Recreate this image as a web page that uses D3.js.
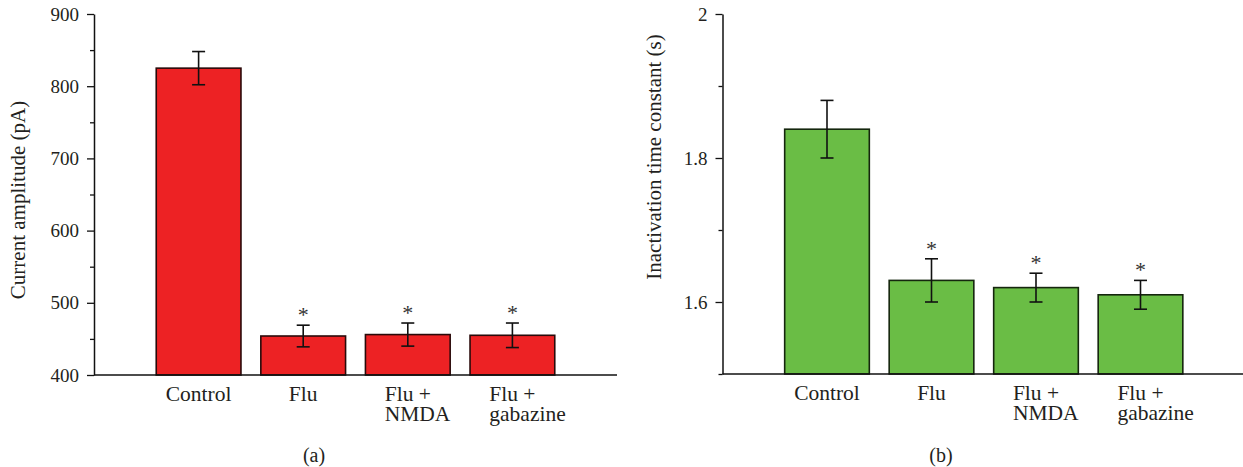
<!DOCTYPE html>
<html>
<head>
<meta charset="utf-8">
<script src="https://cdn.jsdelivr.net/npm/d3@7"></script>
<style>
  html, body { margin: 0; padding: 0; background: #fff; }
  svg { display: block; }
  text { font-family: "Liberation Serif", "DejaVu Serif", serif; fill: #231f20; }
</style>
</head>
<body>
<svg id="chart" width="1243" height="467"></svg>
<script>
// ---- data ----
const categories = ["Control", "Flu", "Flu +\nNMDA", "Flu +\ngabazine"];
const amplitudeValues = [825, 454, 456, 455];
const amplitudeErrors = [23, 15, 16, 17];
const amplitudeSignif = [false, true, true, true];
const amplitudeTicks = [400, 500, 600, 700, 800, 900];
const amplitudeMinorTicks = [450, 550, 650, 750, 850];

const tauValues = [1.84, 1.63, 1.62, 1.61];
const tauErrors = [0.04, 0.03, 0.02, 0.02];
const tauSignif = [false, true, true, true];
const tauTicks = [1.6, 1.8, 2.0];
const tauMinorTicks = [1.5, 1.7, 1.9];

const svg = d3.select("#chart");

function panel(opts) {
  const g = svg.append("g");
  const step = (opts.x1 - opts.x0) / 5;
  const x = d3.scaleBand()
    .domain(categories)
    .range([opts.x0 + step / 2, opts.x1 - step / 2])
    .paddingInner(0.19).paddingOuter(0.095);
  const y = d3.scaleLinear().domain(opts.domain).range([opts.yBottom, opts.yTop]);

  // bars
  g.selectAll("rect.bar").data(categories).enter().append("rect")
    .attr("class", "bar")
    .attr("x", d => x(d))
    .attr("width", x.bandwidth())
    .attr("y", (d, i) => y(opts.values[i]))
    .attr("height", (d, i) => y(opts.domain[0]) - y(opts.values[i]))
    .attr("fill", opts.color)
    .attr("stroke", opts.stroke)
    .attr("stroke-width", 1.6);

  // error bars
  const eb = g.selectAll("g.err").data(categories).enter().append("g").attr("class", "err")
    .attr("stroke", "#111").attr("stroke-width", 1.6);
  eb.append("line")
    .attr("x1", d => x(d) + x.bandwidth() / 2).attr("x2", d => x(d) + x.bandwidth() / 2)
    .attr("y1", (d, i) => y(opts.values[i] + opts.errors[i]))
    .attr("y2", (d, i) => y(opts.values[i] - opts.errors[i]));
  eb.append("line")
    .attr("x1", d => x(d) + x.bandwidth() / 2 - 6.5).attr("x2", d => x(d) + x.bandwidth() / 2 + 6.5)
    .attr("y1", (d, i) => y(opts.values[i] + opts.errors[i]))
    .attr("y2", (d, i) => y(opts.values[i] + opts.errors[i]));
  eb.append("line")
    .attr("x1", d => x(d) + x.bandwidth() / 2 - 6.5).attr("x2", d => x(d) + x.bandwidth() / 2 + 6.5)
    .attr("y1", (d, i) => y(opts.values[i] - opts.errors[i]))
    .attr("y2", (d, i) => y(opts.values[i] - opts.errors[i]));

  // asterisks
  g.selectAll("text.star").data(categories.filter((d, i) => opts.signif[i])).enter().append("text")
    .attr("class", "star")
    .attr("x", d => x(d) + x.bandwidth() / 2)
    .attr("y", d => { const i = categories.indexOf(d); return y(opts.values[i] + opts.errors[i]) - 3; })
    .attr("text-anchor", "middle")
    .style("font-size", "22px")
    .style("fill", "#333")
    .text("*");

  // y axis
  const yAxis = d3.axisLeft(y).tickValues(opts.ticks).tickSize(7).tickPadding(8)
    .tickFormat(opts.format).tickSizeOuter(0);
  const ya = g.append("g").attr("transform", `translate(${opts.x0},0)`).call(yAxis);
  ya.select(".domain").attr("stroke", "#111").attr("stroke-width", 1.5);
  ya.selectAll(".tick line").attr("stroke", "#111").attr("stroke-width", 1.3);
  ya.selectAll(".tick text").style("font-size", "19px").attr("fill", "#231f20")
    .style("font-family", '"Liberation Serif", serif');
  const yMinor = d3.axisLeft(y).tickValues(opts.minor).tickSize(4).tickFormat("");
  const ym = g.append("g").attr("transform", `translate(${opts.x0},0)`).call(yMinor);
  ym.select(".domain").remove();
  ym.selectAll(".tick line").attr("stroke", "#111").attr("stroke-width", 1.3);

  // x axis line
  g.append("line")
    .attr("x1", opts.x0).attr("x2", opts.x1)
    .attr("y1", y(opts.domain[0])).attr("y2", y(opts.domain[0]))
    .attr("stroke", "#111").attr("stroke-width", 1.5);

  // category labels
  categories.forEach(c => {
    const lines = c.split("\n");
    const cx = x(c) + x.bandwidth() / 2;
    const t = g.append("text").style("font-size", "21.5px")
      .attr("y", y(opts.domain[0]) + 26);
    const first = t.append("tspan").text(lines[0]).attr("x", cx).attr("text-anchor", "middle");
    if (lines.length > 1) {
      const w = first.node().getComputedTextLength();
      const sx = cx - w / 2;
      first.attr("x", sx).attr("text-anchor", "start");
      t.append("tspan").text(lines[1]).attr("x", sx).attr("dy", 20);
    }
  });

  // y label
  g.append("text")
    .attr("transform", `translate(${opts.labelX},${opts.labelY}) rotate(-90)`)
    .attr("text-anchor", "middle")
    .style("font-size", "21px")
    .text(opts.ylabel);

  // panel letter
  g.append("text")
    .attr("x", opts.letterX).attr("y", 462)
    .attr("text-anchor", "middle")
    .style("font-size", "20px")
    .text(opts.letter);
}

panel({
  x0: 94, x1: 617, yTop: 14, yBottom: 375,
  domain: [400, 900], values: amplitudeValues, errors: amplitudeErrors, signif: amplitudeSignif,
  ticks: amplitudeTicks, minor: amplitudeMinorTicks, format: d3.format("d"),
  color: "#ed2224", stroke: "#2a0a0a",
  ylabel: "Current amplitude (pA)", labelX: 25, labelY: 200,
  letter: "(a)", letterX: 314
});

panel({
  x0: 722.5, x1: 1245, yTop: 14, yBottom: 374,
  domain: [1.5, 2.0], values: tauValues, errors: tauErrors, signif: tauSignif,
  ticks: tauTicks, minor: tauMinorTicks, format: d => d3.format("")(+d.toFixed(1)),
  color: "#6abd45", stroke: "#15260e",
  ylabel: "Inactivation time constant (s)", labelX: 661, labelY: 157,
  letter: "(b)", letterX: 941
});
</script>
</body>
</html>
